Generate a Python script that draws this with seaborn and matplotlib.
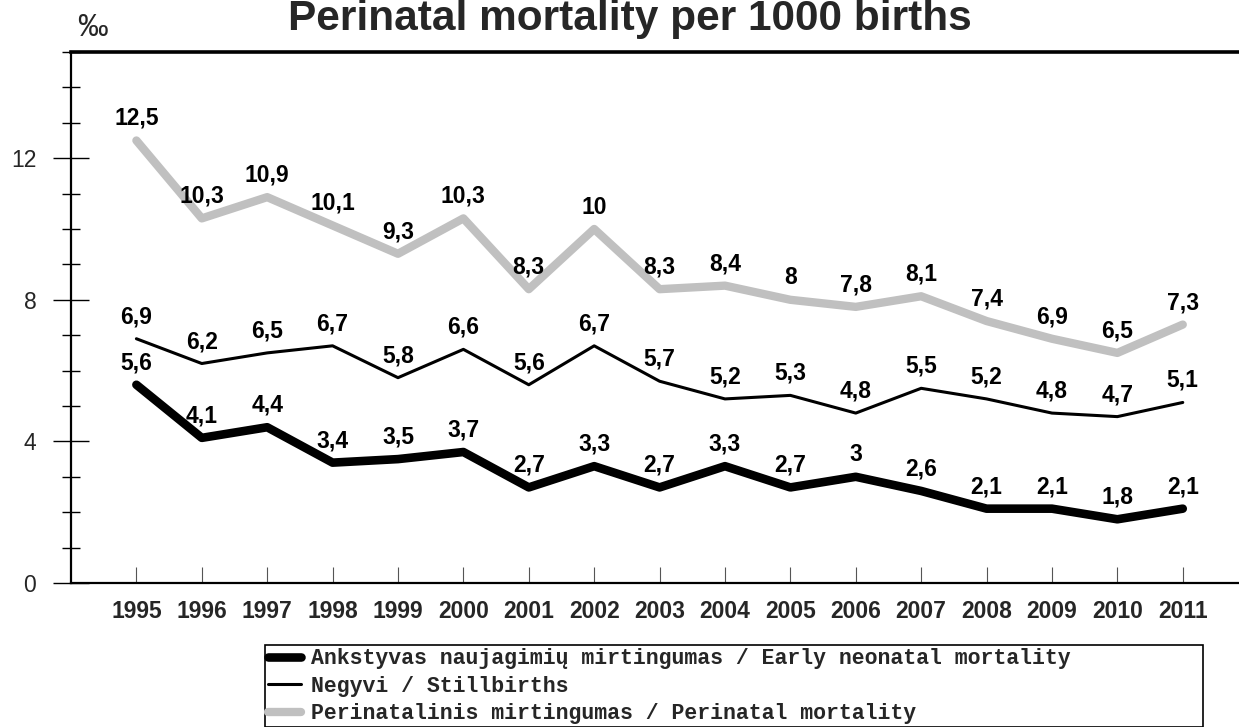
import matplotlib.pyplot as plt
import seaborn as sns
import pandas as pd
from matplotlib.ticker import MultipleLocator

# data
years = list(range(1995, 2012))
early_neonatal = [5.6, 4.1, 4.4, 3.4, 3.5, 3.7, 2.7, 3.3, 2.7, 3.3, 2.7, 3.0, 2.6, 2.1, 2.1, 1.8, 2.1]
stillbirths = [6.9, 6.2, 6.5, 6.7, 5.8, 6.6, 5.6, 6.7, 5.7, 5.2, 5.3, 4.8, 5.5, 5.2, 4.8, 4.7, 5.1]
perinatal = [12.5, 10.3, 10.9, 10.1, 9.3, 10.3, 8.3, 10.0, 8.3, 8.4, 8.0, 7.8, 8.1, 7.4, 6.9, 6.5, 7.3]
series_names = [
    "Ankstyvas naujagimių mirtingumas / Early neonatal mortality",
    "Negyvi / Stillbirths",
    "Perinatalinis mirtingumas / Perinatal mortality",
]
title = "Perinatal mortality per 1000 births"

sns.set_theme(style="white")
plt.rcParams["font.family"] = ["Liberation Sans", "DejaVu Sans"]

fig = plt.figure(figsize=(12.39, 7.27), dpi=100)
ax = fig.add_axes([71 / 1239, 1 - 583 / 727, 1 - 71 / 1239, (583 - 52) / 727])

df = pd.DataFrame({"year": years, "early": early_neonatal,
                   "still": stillbirths, "peri": perinatal})

styles = [("early", "black", 6.2), ("still", "black", 2.2), ("peri", "#c0c0c0", 6.0)]
for (col, color, lw), name in zip(styles, series_names):
    sns.lineplot(data=df, x="year", y=col, ax=ax, color=color, linewidth=lw,
                 label=name, solid_capstyle="round")

# value labels
for col in ["early", "still", "peri"]:
    for x, v in zip(df["year"], df[col]):
        ax.annotate(f"{v:g}".replace(".", ","), (x, v), xytext=(0, 22),
                    textcoords="offset pixels", ha="center", va="center",
                    fontsize=16.5, fontweight="bold", color="black")

ax.set_xlim(1994, 2011.86)
ax.set_ylim(0, 15)
ax.set_xlabel("")
ax.set_ylabel("")

ax.set_xticks(years)
ax.set_xticklabels([str(y) for y in years], fontsize=16.5, fontweight="bold")
ax.tick_params(axis="x", direction="in", length=11.5, width=0.8, color="#555555",
               pad=12, bottom=True)

ax.yaxis.set_major_locator(MultipleLocator(4))
ax.yaxis.set_minor_locator(MultipleLocator(1))
ax.tick_params(axis="y", which="major", direction="inout", length=26, width=1,
               color="black", labelsize=16.5, pad=12, left=True)
ax.tick_params(axis="y", which="minor", direction="inout", length=13.5, width=1,
               color="black", left=True)

for side in ["left", "bottom"]:
    ax.spines[side].set_color("black")
    ax.spines[side].set_linewidth(1.6)
ax.spines["top"].set_color("black")
ax.spines["top"].set_linewidth(2.6)
ax.spines["right"].set_visible(False)

handles, labels = ax.get_legend_handles_labels()
if ax.get_legend() is not None:
    ax.get_legend().remove()
leg = fig.legend(handles, labels, loc="upper left",
                 bbox_to_anchor=(265 / 1239, 1 - 645 / 727 - 0.01, (1203 - 265) / 1239, 0.01),
                 mode="expand", borderaxespad=0, borderpad=0.15, labelspacing=0.3,
                 handlelength=1.5, handletextpad=0.5, fancybox=False, framealpha=1,
                 prop={"family": "Liberation Mono", "weight": "bold", "size": 15.5})
leg.get_frame().set_edgecolor("black")
leg.get_frame().set_linewidth(1.2)

fig.text(630 / 1239, 1 - 30 / 727, title, ha="center", va="baseline",
         fontsize=30.5, fontweight="bold")
fig.text(92 / 1239, 1 - 28 / 727, "‰", ha="center", va="center", fontsize=22)

fig.savefig("out.png", dpi=100)
